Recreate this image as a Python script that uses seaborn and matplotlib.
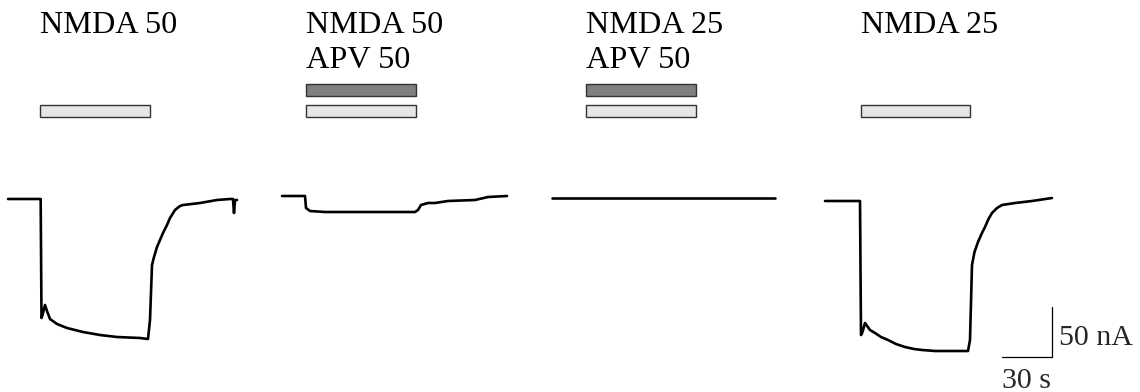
import matplotlib
matplotlib.use("Agg")
import matplotlib.pyplot as plt
from matplotlib.patches import Rectangle
import seaborn as sns
import pandas as pd

# ---- data (time in s from trace start, current in nA relative to baseline) ----
t1 = [0, 19.6, 20.1, 20.7, 22.2, 23.4, 25.2, 29.4, 35.4, 40.2, 45, 55.2, 65.4, 79.2,
      84, 85.2, 86.4, 87.6, 89.4, 91.2, 93, 95.4, 97.2, 100.2, 103.2, 105, 115.2,
      125.4, 133.2, 135, 135.6, 136.2, 137.4]
i1 = [0, 0, -119, -116, -106, -112, -120, -125, -129, -131, -133, -136, -138, -139,
      -140, -121, -66, -58, -48, -41, -34, -26, -19, -11, -7, -6, -4,
      -1, 0, 0, -14, -1, -1]

t2 = [0, 13.8, 14.4, 16.8, 25.8, 46.8, 64.8, 79.8, 81.6, 83.4, 87.6, 91.8, 99.6,
      115.8, 123.6, 135]
i2 = [3, 3, -9, -12, -13, -13, -13, -13, -11, -6, -4, -4, -2, -1, 2, 3]

t3 = [0, 133.8]
i3 = [1, 1]

t4 = [0, 21, 21.6, 22.5, 24, 27, 30, 33.6, 37.8, 42.6, 48, 53.4, 58.2, 66, 73.8,
      85.8, 87, 88.2, 89.7, 91.8, 93.9, 96, 98.1, 100.2, 103.2, 106.2, 114, 124.2,
      136.2]
i4 = [-2, -2, -136, -133, -124, -131, -134, -138, -141, -145, -148, -150, -151,
      -152, -152, -152, -141, -66, -53, -43, -35, -28, -20, -14, -9, -6, -4, -2, 1]

nmda_labels = ["NMDA 50", "NMDA 50", "NMDA 25", "NMDA 25"]
apv_labels = [None, "APV 50", "APV 50", None]
bar_start = [19.2, 14.4, 20.4, 21.6]   # s from trace start
bar_end = [85.2, 80.4, 86.4, 87.0]

scale_nA = 50
scale_s = 30

# ---- layout ----
trace_offset = [4.8, 169.2, 331.2, 495.0]   # s, horizontal placement of each trace
traces = [(t1, i1), (t2, i2), (t3, i3), (t4, i4)]

sns.set_theme(style="white")
plt.rcParams["font.family"] = ["Liberation Serif", "DejaVu Serif"]

fig = plt.figure(figsize=(11.4, 3.92), dpi=100)
ax = fig.add_axes([0, 0, 1, 1])

for k, (t, i) in enumerate(traces):
    df = pd.DataFrame({"time": [v + trace_offset[k] for v in t], "current": i})
    sns.lineplot(data=df, x="time", y="current", ax=ax, color="black",
                 linewidth=1.9, estimator=None, sort=False)

fs = 23.2
for k in range(4):
    x0 = trace_offset[k] + bar_start[k]
    x1 = trace_offset[k] + bar_end[k]
    ax.add_patch(Rectangle((x0, 82), x1 - x0, 12, facecolor="#e6e6e6",
                           edgecolor="#333333", linewidth=1.0, zorder=3))
    if apv_labels[k]:
        ax.add_patch(Rectangle((x0, 103), x1 - x0, 12, facecolor="#808080",
                               edgecolor="#333333", linewidth=1.0, zorder=3))
        ax.text(x0, 131, apv_labels[k], fontsize=fs, va="baseline", ha="left",
                color="black")
    ax.text(x0, 166, nmda_labels[k], fontsize=fs, va="baseline", ha="left",
            color="black")

# scale bar
sx = 631.2
sy = -158
ax.plot([sx, sx], [sy, sy + scale_nA], color="black", linewidth=0.9)
ax.plot([sx - scale_s, sx], [sy, sy], color="black", linewidth=0.9)
ax.text(sx + 4.2, -146, f"{scale_nA} nA", fontsize=21.5, va="baseline", ha="left")
ax.text(sx - scale_s, -188.5, f"{scale_s} s", fontsize=21.5, va="baseline", ha="left")

ax.set_xlim(0, 684)
ax.set_ylim(-193, 199)
ax.axis("off")

fig.savefig("out.png", dpi=100)
